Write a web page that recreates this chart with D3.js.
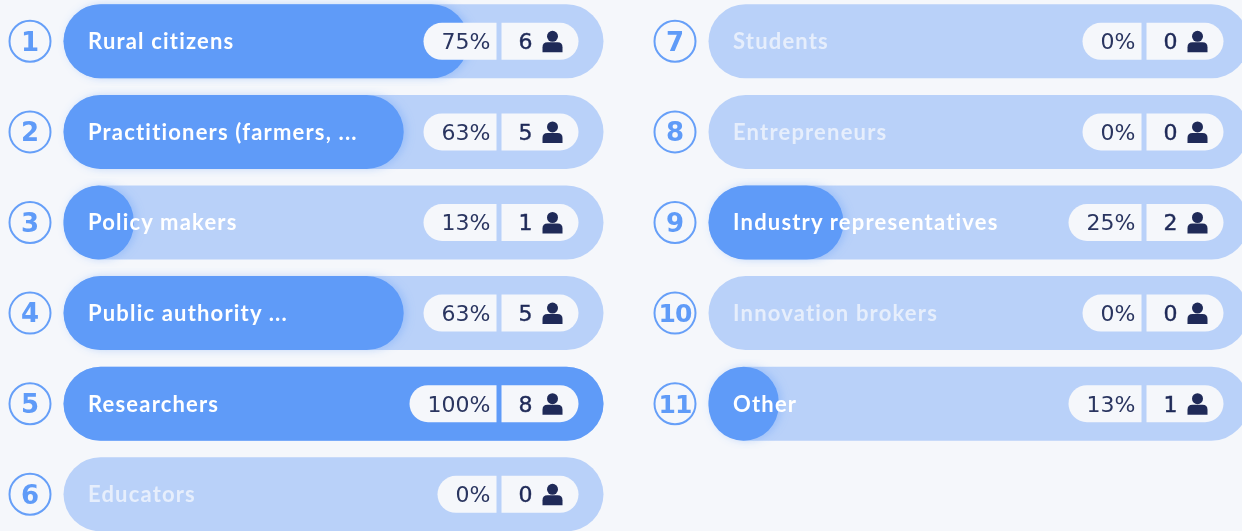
<!DOCTYPE html>
<html>
<head>
<meta charset="utf-8">
<script src="https://cdn.jsdelivr.net/npm/d3@7"></script>
<style>
    html, body { margin: 0; padding: 0; background: #f5f7fb; overflow: hidden; }
    svg { display: block; font-family: "Lato", "Open Sans", sans-serif; filter: blur(0.7px); }
</style>
</head>
<body>
<div id="chart"></div>
<script>
    var labels = ['Rural citizens', 'Practitioners (farmers, ...', 'Policy makers', 'Public authority ...',
        'Researchers', 'Educators', 'Students', 'Entrepreneurs', 'Industry representatives',
        'Innovation brokers', 'Other'];
    var percents = [75, 63, 13, 63, 100, 0, 0, 0, 25, 0, 13];
    var counts = [6, 5, 1, 5, 8, 0, 0, 0, 2, 0, 1];
    var columnSlots = [0, 0, 0, 0, 0, 0, 1, 1, 1, 1, 1];
    var rowSlots = [0, 1, 2, 3, 4, 5, 0, 1, 2, 3, 4];

    var width = 1242;
    var height = 531;
    var barWidth = 540;
    var barHeight = 74;
    var pillHeight = 37;

    var rows = labels.map(function (label, i) {
        return { label: label, pct: percents[i], count: counts[i], col: columnSlots[i], row: rowSlots[i], num: i + 1 };
    });

    var svg = d3.select('#chart').append('svg')
        .attr('width', width)
        .attr('height', height);

    var defs = svg.append('defs');
    var shadow = defs.append('filter').attr('id', 'barShadow')
        .attr('x', '-10%').attr('y', '-10%').attr('width', '125%').attr('height', '120%');
    shadow.append('feDropShadow')
        .attr('dx', 3).attr('dy', 0).attr('stdDeviation', 4)
        .attr('flood-color', '#5f9bf8').attr('flood-opacity', 0.35);

    var xCol = d3.scaleOrdinal().domain([0, 1]).range([63.5, 708.5]);
    var yRow = d3.scaleLinear().domain([0, 5]).range([4.3, 457.3]);
    var xPct = d3.scaleLinear().domain([0, 100]).range([0, barWidth]);

    var row = svg.selectAll('g.row')
        .data(rows)
        .enter().append('g')
        .attr('class', 'row')
        .attr('transform', function (d) { return 'translate(' + xCol(d.col) + ',' + yRow(d.row) + ')'; });

    // numbered badge
    row.append('circle')
        .attr('cx', -33.5)
        .attr('cy', barHeight / 2)
        .attr('r', 20.5)
        .attr('fill', '#f5f7fb')
        .attr('stroke', '#669ff8')
        .attr('stroke-width', 2);

    row.append('text')
        .attr('x', -33.5)
        .attr('y', barHeight / 2)
        .attr('dy', '0.36em')
        .attr('text-anchor', 'middle')
        .attr('font-size', function (d) { return d.num > 9 ? 25 : 26; })
        .attr('font-weight', 700)
        .attr('fill', '#5f9bf8')
        .attr('font-family', '"DejaVu Sans"')
        .attr('letter-spacing', function (d) { return d.num > 9 ? -1 : 0; })
        .text(function (d) { return d.num; });

    // track
    row.append('rect')
        .attr('width', barWidth)
        .attr('height', barHeight)
        .attr('rx', 37)
        .attr('fill', '#b9d1f9');

    // filled part
    row.filter(function (d) { return d.pct > 0; })
        .append('rect')
        .attr('width', function (d) { return xPct(d.pct); })
        .attr('height', barHeight)
        .attr('rx', function (d) { return Math.min(37, xPct(d.pct) / 2); })
        .attr('fill', '#5f9bf8')
        .attr('filter', function (d) { return d.pct < 100 ? 'url(#barShadow)' : null; });

    row.append('text')
        .attr('x', 24.5)
        .attr('y', barHeight / 2)
        .attr('dy', '0.36em')
        .attr('font-size', 22)
        .attr('font-weight', 700)
        .attr('letter-spacing', 1.18)
        .attr('fill', function (d) { return d.pct > 0 ? '#ffffff' : '#e6eefc'; })
        .attr('font-family', 'Lato')
        .text(function (d) { return d.label; });

    // percent pill, grows to the left with the text
    function pctWidth(d) {
        if (d.pct === 100) return 87;
        if (d.pct === 0) return 59;
        return 73;
    }
    var pillTop = (barHeight - pillHeight) / 2;

    row.append('path')
        .attr('fill', '#f5f7fb')
        .attr('d', function (d) {
            var r = pillHeight / 2, right = 433, left = right - pctWidth(d);
            return 'M' + right + ',' + pillTop + 'H' + (left + r)
                + 'A' + r + ',' + r + ' 0 0 0 ' + (left + r) + ',' + (pillTop + pillHeight)
                + 'H' + right + 'Z';
        });

    row.append('path')
        .attr('fill', '#f5f7fb')
        .attr('d', function (d) {
            var r = pillHeight / 2, left = 438, right = 515;
            return 'M' + left + ',' + pillTop + 'H' + (right - r)
                + 'A' + r + ',' + r + ' 0 0 1 ' + (right - r) + ',' + (pillTop + pillHeight)
                + 'H' + left + 'Z';
        });

    row.append('text')
        .attr('x', 427)
        .attr('y', barHeight / 2)
        .attr('dy', '0.36em')
        .attr('text-anchor', 'end')
        .attr('font-size', 22)
        .attr('fill', '#2a3560')
        .attr('font-family', '"DejaVu Sans"')
        .text(function (d) { return d.pct + '%'; });

    row.append('text')
        .attr('x', 462)
        .attr('y', barHeight / 2)
        .attr('dy', '0.36em')
        .attr('text-anchor', 'middle')
        .attr('font-size', 22)
        .attr('fill', '#1f2a58')
        .attr('stroke', '#1f2a58')
        .attr('stroke-width', 0.4)
        .attr('font-family', '"DejaVu Sans"')
        .text(function (d) { return d.count; });

    // person icon
    var person = row.append('g')
        .attr('transform', 'translate(489,' + (barHeight / 2) + ')')
        .attr('fill', '#1f2a58');
    person.append('circle').attr('cx', 0).attr('cy', -5).attr('r', 5.5);
    person.append('path').attr('d', 'M-10,11V6Q-10,1 -5,1H5Q10,1 10,6V11Z');
</script>
</body>
</html>
